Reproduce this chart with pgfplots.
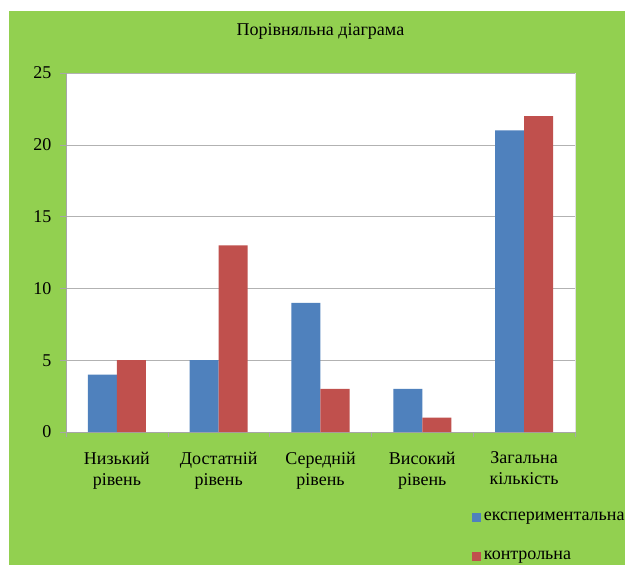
\documentclass[border=0pt]{standalone}
\usepackage{pgfplots}
\pgfplotsset{compat=1.18}
\usepackage{fontspec}
\setmainfont{Liberation Serif}
\newfontfamily\tnr{Liberation Serif}
\definecolor{bggreen}{HTML}{92D050}
\definecolor{serblue}{HTML}{4F81BD}
\definecolor{serred}{HTML}{C0504D}
\begin{document}
\begin{tikzpicture}
\path[use as bounding box, fill=white] (0,0) rectangle (468.75pt,423.75pt);
\fill[bggreen] (6.75pt,0) rectangle (468.75pt,415.5pt);
\begin{axis}[
  at={(49.5pt,99.75pt)}, anchor=south west,
  scale only axis, width=381.75pt, height=269.25pt,
  ybar=0pt, bar width=21.75pt,
  xmin=-0.5, xmax=4.5, ymin=0, ymax=25,
  ytick={0,5,...,25},
  xtick={0,1,2,3,4},
  xticklabels={{Низький\\рівень},{Достатній\\рівень},{Середній\\рівень},{Високий\\рівень},{Загальна\\кількість}},
  x tick label style={align=center, font=\tnr\fontsize{13.5}{15.5}\selectfont, yshift=-7pt},
  y tick label style={font=\tnr\fontsize{13.5}{15}\selectfont, xshift=-3pt},
  /pgf/number format/assume math mode=true,
  major x tick style={draw=none},
  minor xtick={-0.5,0.5,...,4.5},
  minor tick length=4pt, major tick length=4.5pt,
  tick align=outside,
  tick style={gray!70, thin},
  axis x line*=bottom, axis y line*=left,
  axis line style={gray!70, thin},
  separate axis lines,
  x axis line style={-}, y axis line style={-},
  ymajorgrids, grid style={gray!60, thin},
  axis background/.style={fill=white, draw=gray!25},
  title={Порівняльна діаграма},
  title style={at={(0.5,1.1226)}, anchor=center, yshift=-7.5pt, font=\tnr\fontsize{13.5}{15}\selectfont},
  legend style={at={(0.797,-0.215)}, anchor=north west, draw=none, fill=none,
    font=\tnr\fontsize{13.5}{15}\selectfont, row sep=17pt, inner sep=0pt},
  legend cell align=left,
  legend image code/.code={\fill[#1] (0pt,-3.75pt) rectangle (7pt,3.25pt);},
]
\addplot[fill=serblue, draw=none] coordinates {(0,4) (1,5) (2,9) (3,3) (4,21)};
\addplot[fill=serred, draw=none] coordinates {(0,5) (1,13) (2,3) (3,1) (4,22)};
\legend{експериментальна, контрольна}
\end{axis}
\end{tikzpicture}
\end{document}
